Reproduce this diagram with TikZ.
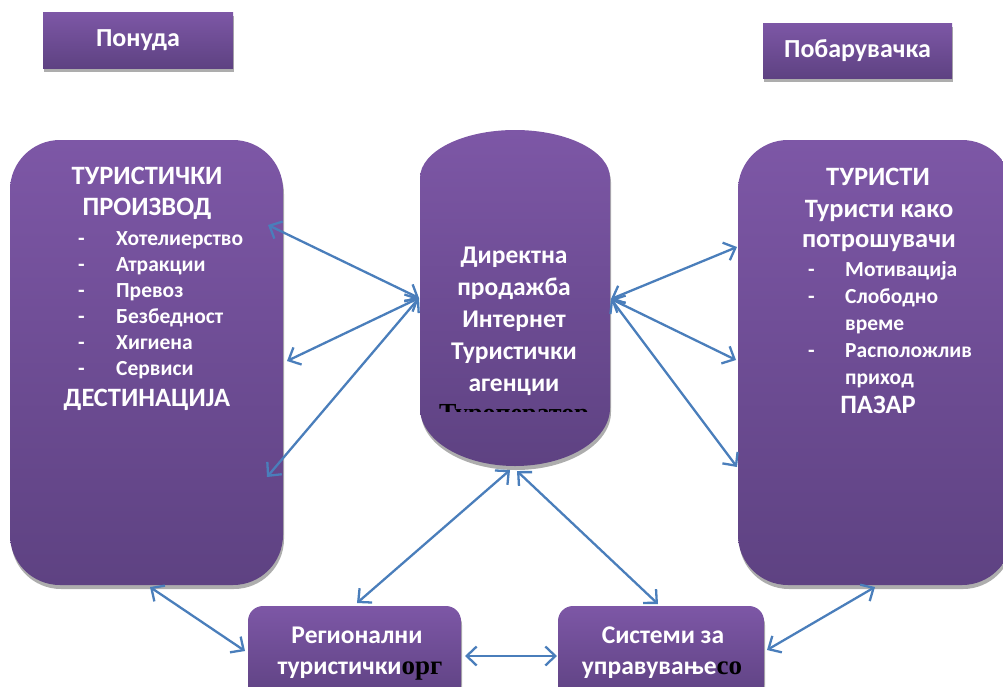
\documentclass[tikz,border=0pt]{standalone}
\usepackage{fontspec}
\setmainfont{Carlito}
\newfontfamily\serifb{Liberation Serif}
\usetikzlibrary{arrows.meta}
\usetikzlibrary{shadows}
\definecolor{boxtop}{HTML}{7D57A6}
\definecolor{boxbot}{HTML}{5E4282}
\definecolor{linkblue}{HTML}{4A7EBB}

\begin{document}
\begin{tikzpicture}[x=1pt,y=-1pt,
  panel/.style={top color=boxtop, bottom color=boxbot, draw=none,
    drop shadow={shadow xshift=1pt, shadow yshift=-4pt, fill=black!40, opacity=0.8}},
  bigpanel/.style={panel, rounded corners=50pt, inner sep=0pt},
  tag/.style={panel, inner sep=0pt, minimum width=190pt, minimum height=56pt,
    text=white, font=\bfseries\fontsize{26}{30}\selectfont},
  head/.style={text=white, inner sep=0pt, anchor=base, font=\bfseries\fontsize{26.5}{30}\selectfont},
  item/.style={text=white, inner sep=0pt, anchor=base west, font=\bfseries\fontsize{21.5}{24}\selectfont},
  midtxt/.style={text=white, inner sep=0pt, anchor=base, font=\bfseries\fontsize{25.5}{30}\selectfont},
  blacktxt/.style={text=black, inner sep=0pt, anchor=base, font=\serifb\bfseries\fontsize{26}{30}\selectfont},
  link/.style={linkblue, line width=2.3pt,
    {Straight Barb[length=10pt,width=19pt]}-{Straight Barb[length=10pt,width=19pt]}}
]
\useasboundingbox (0,0) rectangle (1003,686);
\clip (0,0) rectangle (1003,686);

% headers
\node[tag] (ponuda) at (138,40) {Понуда};
\node[tag, minimum width=189pt, minimum height=55pt] (pobar) at (857.5,50.5) {Побарувачка};

% panels
\node[bigpanel, minimum width=273pt, minimum height=445pt] (destin) at (146.5,362.5) {};
\node[bigpanel, minimum width=274pt, minimum height=445pt] (tourists) at (875,362.5) {};
\node[bigpanel, rounded corners=15pt, minimum width=213pt, minimum height=94pt] (regorg) at (354.5,653) {};
\node[bigpanel, rounded corners=15pt, minimum width=206pt, minimum height=94pt] (mgmt) at (661,653) {};

% middle drum
\shade[panel] (420,178) -- (420,408) arc[start angle=180, end angle=360, x radius=95pt, y radius=58pt]
  -- (610,178) arc[start angle=0, end angle=180, x radius=95pt, y radius=48pt] -- cycle;

% left text
\node[head] (prodA) at (147,184) {ТУРИСТИЧКИ};
\node[head] (prodB) at (147,215) {ПРОИЗВОД};
\foreach \ln [count=\i] in {Хотелиерство,Атракции,Превоз,Безбедност,Хигиена,Сервиси} {
  \node[item] (dashL\i) at (78,{245+26*(\i-1)}) {-};
  \node[item] (prodI\i) at (116,{245+26*(\i-1)}) {\ln};
}
\node[head] (prodC) at (147,406) {ДЕСТИНАЦИЈА};

% right text
\node[head] (touA) at (878,185) {ТУРИСТИ};
\node[head] (touB) at (879,217) {Туристи како};
\node[head] (touC) at (879,247) {потрошувачи};
\node[item] (dashR1) at (808,276) {-};
\node[item] (touI1) at (845,276) {Мотивација};
\node[item] (dashR2) at (808,303) {-};
\node[item] (touI2) at (845,303) {Слободно};
\node[item] (touI3) at (845,330) {време};
\node[item] (dashR3) at (808,357) {-};
\node[item] (touI4) at (845,357) {Расположлив};
\node[item] (touI5) at (845,384) {приход};
\node[head] (touD) at (878,413) {ПАЗАР};

% middle text
\foreach \ln [count=\i] in {Директна,продажба,Интернет,Туристички,агенции}
  \node[midtxt] (sale\i) at (514,{263+32*(\i-1)}) {\ln};
\begin{scope}
\clip (420,395) rectangle (610,411);
\node[blacktxt] (sale6) at (514,421) {Туроператор};
\end{scope}

% bottom text
\node[midtxt] (regA) at (357,643) {Регионални};
\node[midtxt] (regB) at (360,674) {туристички{\color{black}\serifb\fontsize{27}{30}\selectfont орг}};
\node[midtxt] (mgmtA) at (663,643) {Системи за};
\node[midtxt] (mgmtB) at (662,674) {управување{\color{black}\serifb\fontsize{27}{30}\selectfont со}};

% arrow ends
\coordinate (pA) at (268,225);
\coordinate (pB) at (287,361);
\coordinate (pC) at (267,477);
\coordinate (sW) at (419,298);
\coordinate (sE) at (611,299);
\coordinate (tA) at (737,247);
\coordinate (tB) at (736,360);
\coordinate (tC) at (737,467);
\coordinate (sS1) at (510,470);
\coordinate (sS2) at (517,471);
\coordinate (dS) at (150,587);
\coordinate (rW) at (245,651);
\coordinate (rN) at (357,603);
\coordinate (rE) at (465,656);
\coordinate (mW) at (557,656);
\coordinate (mN) at (658,604);
\coordinate (mE) at (767,650);
\coordinate (tS) at (875,587);

\draw[link] (pA) -- (sW);
\draw[link] (pB) -- (sW);
\draw[link] (pC) -- (sW);
\draw[link] (sE) -- (tA);
\draw[link] (sE) -- (tB);
\draw[link] (sE) -- (tC);
\draw[link] (dS) -- (rW);
\draw[link] (sS1) -- (rN);
\draw[link] (sS2) -- (mN);
\draw[link] (rE) -- (mW);
\draw[link] (mE) -- (tS);
\end{tikzpicture}
\end{document}
